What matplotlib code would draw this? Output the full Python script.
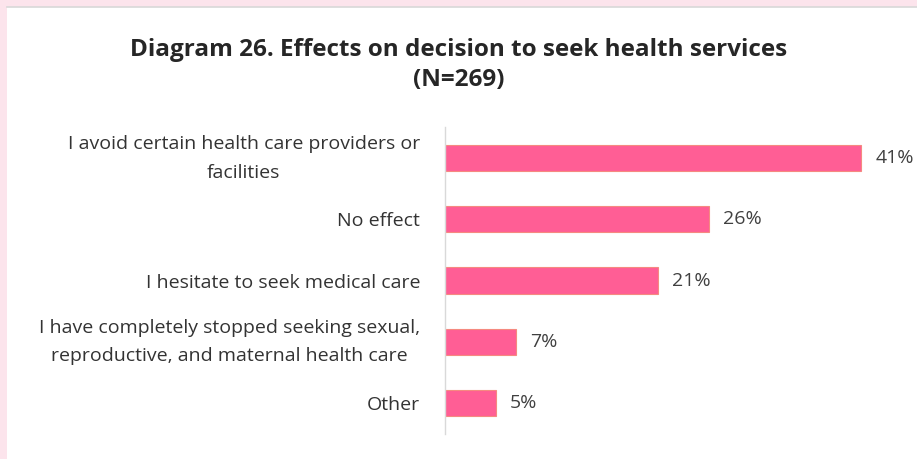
import matplotlib.pyplot as plt
from matplotlib.patches import Rectangle
from matplotlib.transforms import ScaledTranslation

categories = [
    "I avoid certain health care providers or\nfacilities",
    "No effect",
    "I hesitate to seek medical care",
    "I have completely stopped seeking sexual,\nreproductive, and maternal health care",
    "Other",
]
values = [41, 26, 21, 7, 5]
value_labels = ["41%", "26%", "21%", "7%", "5%"]

plt.rcParams["font.family"] = ["Open Sans", "DejaVu Sans"]

fig = plt.figure(figsize=(9.17, 4.59), dpi=100)
fig.patch.set_facecolor("#fce4ec")

# white panel inside the pink frame
panel = Rectangle((7 / 917, 0), 1 - 7 / 917, 1 - 7 / 459,
                  transform=fig.transFigure, facecolor="white",
                  edgecolor="none", zorder=-10)
fig.patches.append(panel)
fig.add_artist(plt.Line2D([7 / 917, 1], [1 - 7 / 459, 1 - 7 / 459],
                          transform=fig.transFigure, color="#d8d8d8", lw=1.2,
                          zorder=-5))

ax = fig.add_axes([445 / 917, 0.0553, 457 / 917, 0.667])
ax.set_facecolor("none")

pos = list(range(len(categories)))
ax.barh(pos, values, height=0.43, color="#ff5e95", edgecolor="#f58a80",
        linewidth=0.8)
ax.set_xlim(0, 45)
ax.set_ylim(len(categories) - 0.5, -0.5)

for y, v, lab in zip(pos, values, value_labels):
    ax.text(v + 1.4, y, lab, va="center", ha="left", fontsize=14,
            color="#404040", clip_on=False)

ax.set_yticks(pos)
ax.set_yticklabels(categories, fontsize=14, color="#333333",
                   multialignment="center", linespacing=1.75)
ax.tick_params(axis="y", length=0, pad=18)
ax.set_xticks([])

# two-line labels sit a little low; nudge them up to centre on the bar
for tick in ax.get_yticklabels():
    if "\n" in tick.get_text():
        tick.set_transform(tick.get_transform()
                           + ScaledTranslation(0, 5 / 72, fig.dpi_scale_trans))

for side in ["top", "right", "bottom"]:
    ax.spines[side].set_visible(False)
ax.spines["left"].set_color("#d9d9d9")
ax.spines["left"].set_linewidth(1.0)

fig.text(0.5, 1 - 65 / 459,
         "Diagram 26. Effects on decision to seek health services\n(N=269)",
         ha="center", va="center", fontsize=17.5, fontweight="bold",
         color="#262626", linespacing=1.3)

fig.savefig("out.png", dpi=100, facecolor=fig.get_facecolor())
